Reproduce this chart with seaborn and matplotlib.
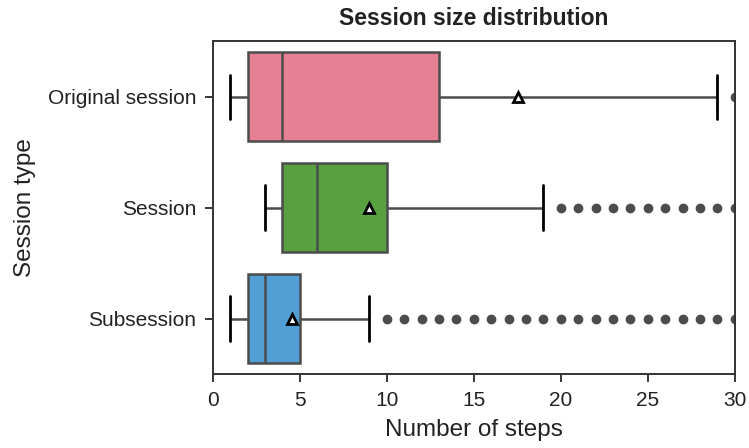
import numpy as np
import pandas as pd
import seaborn as sns
import matplotlib.pyplot as plt

CATEGORIES = ["Original session", "Session", "Subsession"]

# session sizes as value / count tables
ORIG_VALUES = [1, 2, 3, 4, 5, 6, 8, 10, 13, 22, 29, 30, 90, 128]
ORIG_COUNTS = [2, 4, 3, 2, 1, 1, 1, 1, 1, 1, 1, 1, 1, 1]

SESSION_VALUES = [3, 4, 5, 6, 7, 8, 9, 10, 11, 12, 13, 14, 15, 16, 17, 19,
                  20, 21, 22, 23, 24, 25, 26, 27, 28, 29, 30, 63]
SESSION_COUNTS = [10, 25, 10, 15, 6, 5, 4, 3, 2, 2, 2, 1, 1, 1, 1, 1,
                  1, 1, 1, 1, 1, 1, 1, 1, 1, 1, 1, 1]

SUB_VALUES = [1, 2, 3, 4, 5, 6, 7, 8, 9,
              10, 11, 12, 13, 14, 15, 16, 17, 18, 19, 20,
              21, 22, 23, 24, 25, 26, 27, 28, 29, 30, 40]
SUB_COUNTS = [40, 99, 80, 50, 40, 30, 25, 8, 7,
              1, 1, 1, 1, 1, 1, 1, 1, 1, 1, 1,
              1, 1, 1, 1, 1, 1, 1, 1, 1, 1, 1]

tables = [(ORIG_VALUES, ORIG_COUNTS), (SESSION_VALUES, SESSION_COUNTS), (SUB_VALUES, SUB_COUNTS)]
frames = []
for cat, (vals, cnts) in zip(CATEGORIES, tables):
    steps = np.repeat(vals, cnts)
    frames.append(pd.DataFrame({"Session type": cat, "Number of steps": steps}))
df = pd.concat(frames, ignore_index=True)

sns.set_style("ticks")
plt.rcParams["font.family"] = ["Liberation Sans", "DejaVu Sans"]

fig, ax = plt.subplots(figsize=(7.49, 4.48), dpi=100)
gray = "#4c4c4c"

sns.boxplot(
    data=df,
    x="Number of steps",
    y="Session type",
    hue="Session type",
    order=CATEGORIES,
    palette="husl",
    saturation=0.75,
    legend=False,
    width=0.8,
    linewidth=1.8,
    linecolor=gray,
    showmeans=True,
    meanprops=dict(marker="^", markerfacecolor="white", markeredgecolor="black",
                   markeredgewidth=2.0, markersize=6.5),
    flierprops=dict(marker="o", markerfacecolor=gray, markeredgecolor=gray, markersize=6),
    capprops=dict(color="black", linewidth=2.0),
    ax=ax,
)

ax.set_xlim(0, 30)
ax.set_xticks([0, 5, 10, 15, 20, 25, 30])
ax.tick_params(axis="both", labelsize=15, length=6, width=1.3, pad=6, labelcolor="#222222")
ax.set_xlabel("Number of steps", fontsize=17.5, labelpad=7, color="#222222")
ax.set_ylabel("Session type", fontsize=17.5, labelpad=8, color="#222222")
ax.set_title("Session size distribution", fontsize=16.5, fontweight="bold", pad=12, color="#222222")
for s in ax.spines.values():
    s.set_linewidth(1.4)
    s.set_color("#333333")

fig.subplots_adjust(left=0.284, right=0.981, top=0.908, bottom=0.165)
fig.savefig("out.png", dpi=100)
plt.close(fig)
